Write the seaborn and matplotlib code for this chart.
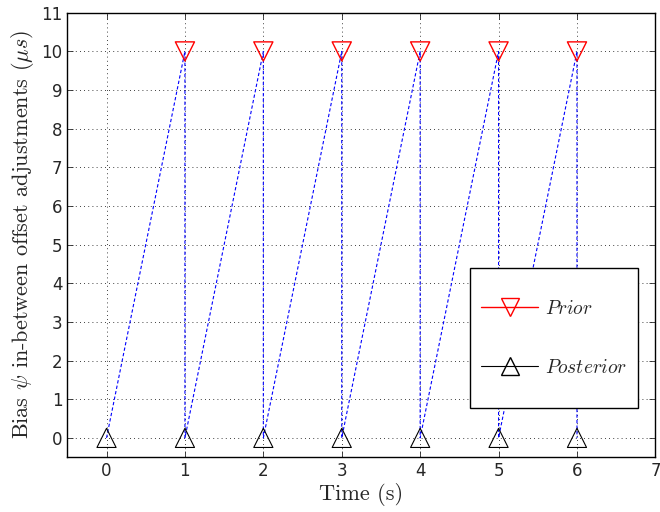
import numpy as np
import pandas as pd
import matplotlib
matplotlib.use('Agg')
import matplotlib.pyplot as plt
from matplotlib.lines import Line2D
from matplotlib.patches import Rectangle
import seaborn as sns

# data
prior_t = [1, 2, 3, 4, 5, 6]
prior_bias = [10, 10, 10, 10, 10, 10]
post_t = [0, 1, 2, 3, 4, 5, 6]
post_bias = [0, 0, 0, 0, 0, 0, 0]
path_t = [0, 1, 1, 2, 2, 3, 3, 4, 4, 5, 5, 6, 6]
path_bias = [0, 10, 0, 10, 0, 10, 0, 10, 0, 10, 0, 10, 0]

sns.set_style('ticks')
plt.rcParams['font.family'] = ['DejaVu Sans']
plt.rcParams['mathtext.fontset'] = 'cm'

path = pd.DataFrame({'t': path_t, 'bias': path_bias})
prior = pd.DataFrame({'t': prior_t, 'bias': prior_bias})
post = pd.DataFrame({'t': post_t, 'bias': post_bias})

fig, ax = plt.subplots(figsize=(6.6, 5.12), dpi=100)
fig.subplots_adjust(left=0.102, right=0.993, top=0.975, bottom=0.107)

sns.lineplot(data=path, x='t', y='bias', sort=False, estimator=None, ax=ax,
             color='blue', linestyle=(0, (3, 2)), linewidth=0.8, zorder=3)
sns.scatterplot(data=prior, x='t', y='bias', marker='v', s=190, ax=ax,
                facecolor='none', edgecolor='red', linewidth=1.0, zorder=4)
sns.scatterplot(data=post, x='t', y='bias', marker='^', s=190, ax=ax,
                facecolor='none', edgecolor='black', linewidth=0.8, zorder=4)

ax.set_xlim(-0.5, 7)
ax.set_ylim(-0.5, 11)
ax.set_xticks(range(0, 8))
ax.set_yticks(range(0, 12))
ax.grid(True, color='black', linestyle=(0, (1, 4)), linewidth=0.6)
ax.tick_params(direction='in', top=True, right=True, labelsize=12, length=4, width=0.6)
for s in ax.spines.values():
    s.set_linewidth(1.0)
    s.set_color('black')

ax.set_xlabel('Time (s)', family='cmr10', fontsize=16, labelpad=2)
ax.set_ylabel(r'Bias $\psi$ in-between offset adjustments ($\mu s$)',
              family='cmr10', fontsize=16, labelpad=4)

# legend box drawn separately so its padding can differ in x and y
box = Rectangle((0.684, 0.110), 0.287, 0.316, transform=ax.transAxes,
                facecolor='white', edgecolor='black', linewidth=1.0, zorder=9)
ax.add_patch(box)

handles = [
    Line2D([], [], color='red', marker='v', markersize=13, markerfacecolor='none',
           markeredgecolor='red', linewidth=1.0),
    Line2D([], [], color='black', marker='^', markersize=13, markerfacecolor='none',
           markeredgecolor='black', linewidth=0.8),
]
leg = ax.legend(handles, [r'$\mathit{Prior}$', r'$\mathit{Posterior}$'],
                loc='center left', bbox_to_anchor=(0.704, 0.268),
                fontsize=14, frameon=False, labelspacing=2.05,
                handlelength=2.9, borderpad=0, handletextpad=0.4,
                borderaxespad=0)
leg.set_zorder(10)

plt.savefig('out.png', dpi=100)
plt.close()
